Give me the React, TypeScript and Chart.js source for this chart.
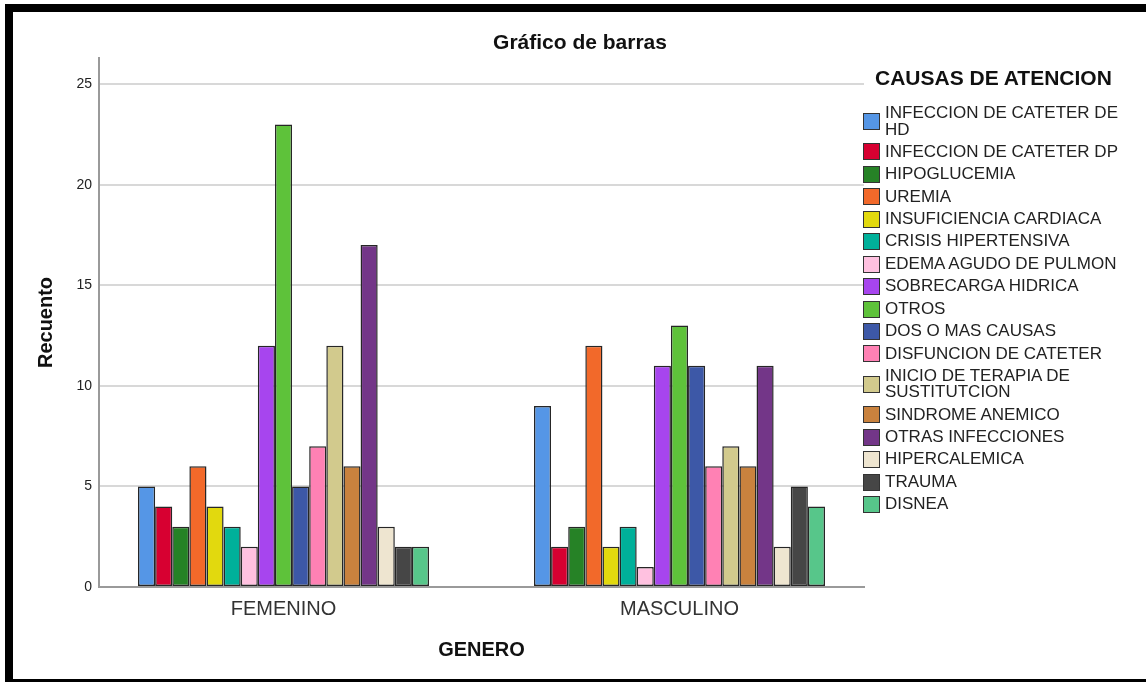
import React, { useEffect, useRef } from 'react';
import { Chart, registerables } from 'chart.js';

Chart.register(...registerables);

const CATEGORIES: string[] = ['FEMENINO', 'MASCULINO'];

const CAUSES: string[] = [
  'INFECCION DE CATETER DE HD',
  'INFECCION DE CATETER DP',
  'HIPOGLUCEMIA',
  'UREMIA',
  'INSUFICIENCIA CARDIACA',
  'CRISIS HIPERTENSIVA',
  'EDEMA AGUDO DE PULMON',
  'SOBRECARGA HIDRICA',
  'OTROS',
  'DOS O MAS CAUSAS',
  'DISFUNCION DE CATETER',
  'INICIO DE TERAPIA DE SUSTITUTCION',
  'SINDROME ANEMICO',
  'OTRAS INFECCIONES',
  'HIPERCALEMICA',
  'TRAUMA',
  'DISNEA',
];

const FEMENINO: number[] = [5, 4, 3, 6, 4, 3, 2, 12, 23, 5, 7, 12, 6, 17, 3, 2, 2];
const MASCULINO: number[] = [9, 2, 3, 12, 2, 3, 1, 11, 13, 11, 6, 7, 6, 11, 2, 5, 4];

const COLORS: string[] = [
  '#5596E6',
  '#D70031',
  '#268226',
  '#F2692A',
  '#E2D90E',
  '#00B09A',
  '#FFC1E0',
  '#A745EE',
  '#5EC23A',
  '#3D58A7',
  '#FF81B4',
  '#D2CA8D',
  '#C9823E',
  '#733688',
  '#EEE5D0',
  '#464646',
  '#57C68A',
];

const Y_TICKS: number[] = [0, 5, 10, 15, 20, 25];

const FONT = '"Liberation Sans", Arial, sans-serif';

export default function App() {
  const canvasRef = useRef<HTMLCanvasElement | null>(null);

  useEffect(() => {
    document.body.style.margin = '0';
    const ctx = canvasRef.current;
    if (!ctx) return;
    const datasets = CAUSES.map((name, i) => ({
      label: name,
      data: [
        { x: 0, y: FEMENINO[i] },
        { x: 1, y: MASCULINO[i] },
      ],
      backgroundColor: COLORS[i],
      borderColor: '#262626',
      borderWidth: 1.5,
      borderSkipped: false,
      barPercentage: 1,
      categoryPercentage: 0.735,
    }));
    const chart = new Chart(ctx, {
      type: 'bar',
      data: { datasets },
      options: {
        animation: false,
        responsive: false,
        layout: { padding: { left: 0, right: 282, top: 58, bottom: 0 } },
        plugins: {
          legend: { display: false },
          tooltip: { enabled: false },
          title: { display: false },
        },
        scales: {
          x: {
            type: 'linear',
            offset: false,
            min: -0.466,
            max: 1.466,
            afterBuildTicks: (s: any) => {
              s.ticks = CATEGORIES.map((_, i) => ({ value: i }));
            },
            afterFit: (s: any) => {
              s.height = 95;
            },
            grid: { display: false, drawTicks: false },
            border: { display: true, color: '#9a9a9a', width: 2 },
            ticks: {
              padding: 10,
              color: '#333',
              font: { family: FONT, size: 20 },
              callback: (v: any) => CATEGORIES[Math.round(Number(v))] ?? '',
            },
            title: {
              display: true,
              text: 'GENERO',
              color: '#111',
              font: { family: FONT, size: 20, weight: 'bold' },
              padding: { top: 0, bottom: 20 },
            },
          },
          y: {
            type: 'linear',
            min: 0,
            max: 26.3,
            afterBuildTicks: (s: any) => {
              s.ticks = Y_TICKS.map((v) => ({ value: v }));
            },
            afterFit: (s: any) => {
              s.width = 99;
            },
            grid: { color: '#d8d8d8', lineWidth: 2, drawTicks: false },
            border: { display: true, color: '#9a9a9a', width: 2 },
            ticks: {
              padding: 7,
              color: '#222',
              font: { family: FONT, size: 14 },
            },
            title: {
              display: true,
              text: 'Recuento',
              color: '#111',
              font: { family: FONT, size: 20, weight: 'bold' },
              padding: { top: 34, bottom: 0 },
            },
          },
        },
      },
    });
    return () => chart.destroy();
  }, []);

  return (
    <div style={{ position: 'relative', width: 1146, height: 682, background: '#fff', overflow: 'hidden', fontFamily: FONT }}>
      <canvas ref={canvasRef} width={1146} height={682} style={{ position: 'absolute', left: 0, top: 0 }} />
      <div style={{ position: 'absolute', left: 5, top: 4, width: 8, height: 678, background: '#000' }} />
      <div style={{ position: 'absolute', left: 5, top: 4, width: 1141, height: 8, background: '#000' }} />
      <div style={{ position: 'absolute', left: 5, top: 679, width: 1141, height: 3, background: '#000' }} />
      <div
        style={{
          position: 'absolute',
          left: 380,
          width: 400,
          top: 29,
          textAlign: 'center',
          fontSize: 21,
          fontWeight: 'bold',
          color: '#111',
          lineHeight: '26px',
          whiteSpace: 'nowrap',
        }}
      >
        Gráfico de barras
      </div>
      <div
        style={{
          position: 'absolute',
          left: 875,
          top: 65,
          fontSize: 21,
          fontWeight: 'bold',
          color: '#111',
          lineHeight: '25px',
          whiteSpace: 'nowrap',
        }}
      >
        CAUSAS DE ATENCION
      </div>
      <div style={{ position: 'absolute', left: 863, top: 105, width: 283 }}>
        {CAUSES.map((name, i) => (
          <div key={name} style={{ display: 'flex', alignItems: 'center', paddingBottom: 5.45 }}>
            <div
              style={{
                width: 15,
                height: 15,
                flex: '0 0 auto',
                background: COLORS[i],
                border: '1px solid #333',
                marginRight: 5,
              }}
            />
            <div style={{ width: 245, fontSize: 17, lineHeight: '16.5px', color: '#222' }}>{name}</div>
          </div>
        ))}
      </div>
    </div>
  );
}
